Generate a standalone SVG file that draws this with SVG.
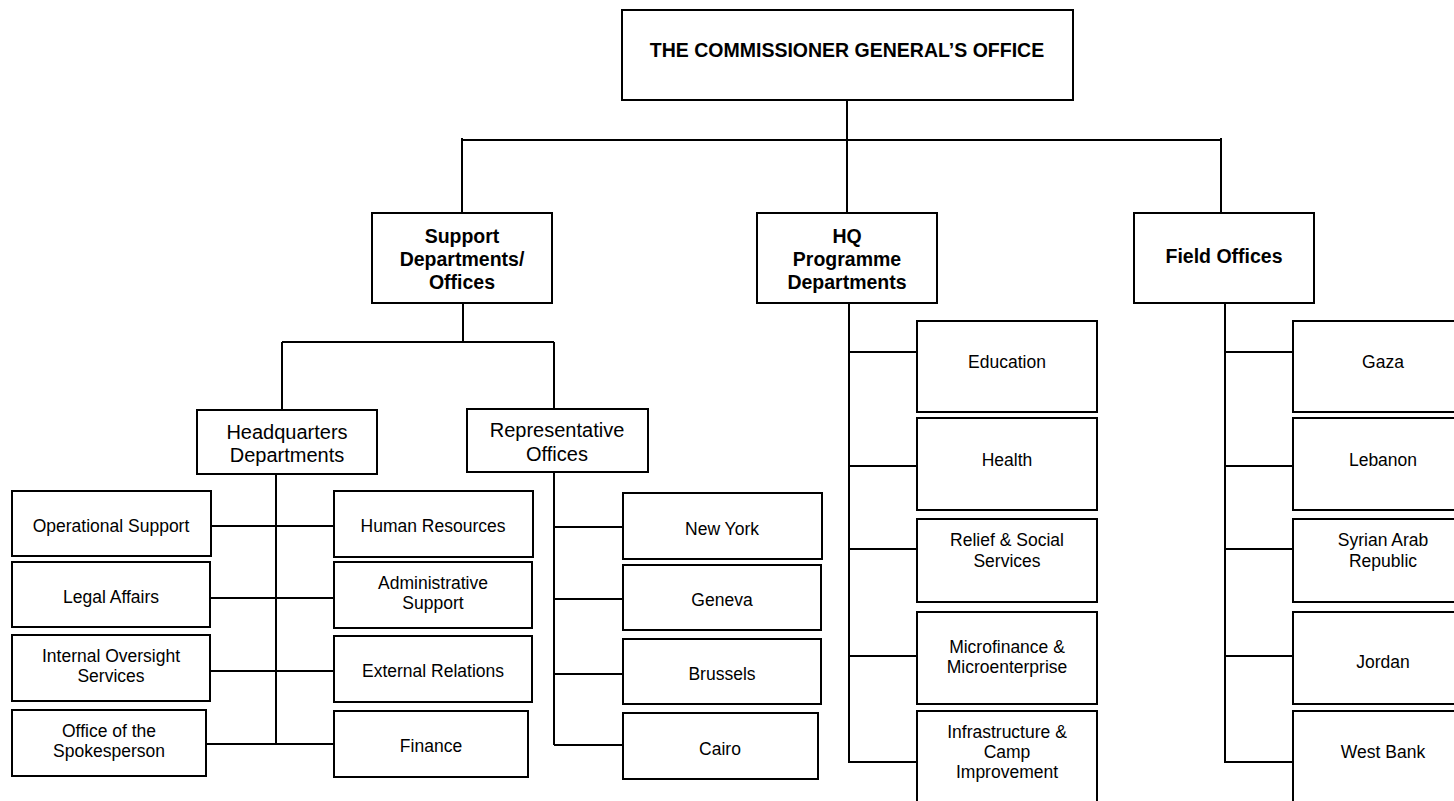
<svg xmlns="http://www.w3.org/2000/svg" width="1454" height="801" viewBox="0 0 1454 801">
<style>
.box{fill:#fff;stroke:#000;stroke-width:2}
.ln{stroke:#000;stroke-width:2;fill:none}
.t{font-family:"Liberation Sans",Arial,sans-serif;text-anchor:middle;fill:#000}
.b{font-weight:bold;font-size:19.5px}
.m{font-size:20px}
.s{font-size:17.5px}
</style>
<rect width="1454" height="801" fill="#fff"/>
<g id="connectors">
<path class="ln" d="M847 100V213M462 138V213M462 140H1221M1221 138V213"/>
<path class="ln" d="M463 304V342M282 342H554M282 342V410M554 342V409"/>
<path class="ln" d="M276 474V744M211 526H334M210 598H334M210 671H334M206 744H334"/>
<path class="ln" d="M554 472V745M554 527H623M554 599H623M554 674H623M554 745H623"/>
<path class="ln" d="M849 304V763M849 352H917M849 466H917M849 549H917M849 656H917M849 762H917"/>
<path class="ln" d="M1225 304V763M1225 352H1293M1225 466H1293M1225 549H1293M1225 656H1293M1225 762H1293"/>
</g>
<g id="commissioner"><rect class="box" x="622" y="10" width="451" height="90"/><text class="t b" x="847" y="57">THE COMMISSIONER GENERAL’S OFFICE</text></g>
<g id="support"><rect class="box" x="372" y="213" width="180" height="90"/><text class="t b" x="462" y="243">Support</text><text class="t b" x="462" y="266">Departments/</text><text class="t b" x="462" y="289">Offices</text></g>
<g id="hqprog"><rect class="box" x="757" y="213" width="180" height="90"/><text class="t b" x="847" y="243">HQ</text><text class="t b" x="847" y="266">Programme</text><text class="t b" x="847" y="289">Departments</text></g>
<g id="field"><rect class="box" x="1134" y="213" width="180" height="90"/><text class="t b" x="1224" y="263">Field Offices</text></g>
<g id="hqdept"><rect class="box" x="197" y="410" width="180" height="64"/><text class="t m" x="287" y="439">Headquarters</text><text class="t m" x="287" y="462">Departments</text></g>
<g id="repoff"><rect class="box" x="467" y="409" width="181" height="63"/><text class="t m" x="557" y="437">Representative</text><text class="t m" x="557" y="461">Offices</text></g>
<g id="opsupport"><rect class="box" x="12" y="491" width="199" height="65"/><text class="t s" x="111" y="532">Operational Support</text></g>
<g id="hr"><rect class="box" x="334" y="491" width="199" height="66"/><text class="t s" x="433" y="532">Human Resources</text></g>
<g id="legal"><rect class="box" x="12" y="562" width="198" height="65"/><text class="t s" x="111" y="603">Legal Affairs</text></g>
<g id="admin"><rect class="box" x="334" y="562" width="198" height="66"/><text class="t s" x="433" y="589">Administrative</text><text class="t s" x="433" y="609">Support</text></g>
<g id="oversight"><rect class="box" x="12" y="635" width="198" height="66"/><text class="t s" x="111" y="662">Internal Oversight</text><text class="t s" x="111" y="682">Services</text></g>
<g id="extrel"><rect class="box" x="334" y="636" width="198" height="66"/><text class="t s" x="433" y="677">External Relations</text></g>
<g id="spokes"><rect class="box" x="12" y="710" width="194" height="66"/><text class="t s" x="109" y="737">Office of the</text><text class="t s" x="109" y="757">Spokesperson</text></g>
<g id="finance"><rect class="box" x="334" y="711" width="194" height="66"/><text class="t s" x="431" y="752">Finance</text></g>
<g id="newyork"><rect class="box" x="623" y="493" width="199" height="66"/><text class="t s" x="722" y="535">New York</text></g>
<g id="geneva"><rect class="box" x="623" y="565" width="198" height="65"/><text class="t s" x="722" y="606">Geneva</text></g>
<g id="brussels"><rect class="box" x="623" y="639" width="198" height="65"/><text class="t s" x="722" y="680">Brussels</text></g>
<g id="cairo"><rect class="box" x="623" y="713" width="195" height="66"/><text class="t s" x="720" y="755">Cairo</text></g>
<g id="education"><rect class="box" x="917" y="321" width="180" height="91"/><text class="t s" x="1007" y="368">Education</text></g>
<g id="health"><rect class="box" x="917" y="418" width="180" height="92"/><text class="t s" x="1007" y="466">Health</text></g>
<g id="relief"><rect class="box" x="917" y="519" width="180" height="83"/><text class="t s" x="1007" y="546">Relief &amp; Social</text><text class="t s" x="1007" y="567">Services</text></g>
<g id="microfinance"><rect class="box" x="917" y="612" width="180" height="92"/><text class="t s" x="1007" y="653">Microfinance &amp;</text><text class="t s" x="1007" y="673">Microenterprise</text></g>
<g id="infra"><rect class="box" x="917" y="711" width="180" height="110"/><text class="t s" x="1007" y="738">Infrastructure &amp;</text><text class="t s" x="1007" y="758">Camp</text><text class="t s" x="1007" y="778">Improvement</text></g>
<g id="gaza"><rect class="box" x="1293" y="321" width="180" height="91"/><text class="t s" x="1383" y="368">Gaza</text></g>
<g id="lebanon"><rect class="box" x="1293" y="418" width="180" height="92"/><text class="t s" x="1383" y="466">Lebanon</text></g>
<g id="syria"><rect class="box" x="1293" y="519" width="180" height="83"/><text class="t s" x="1383" y="546">Syrian Arab</text><text class="t s" x="1383" y="567">Republic</text></g>
<g id="jordan"><rect class="box" x="1293" y="612" width="180" height="92"/><text class="t s" x="1383" y="668">Jordan</text></g>
<g id="westbank"><rect class="box" x="1293" y="711" width="180" height="110"/><text class="t s" x="1383" y="758">West Bank</text></g>
</svg>
